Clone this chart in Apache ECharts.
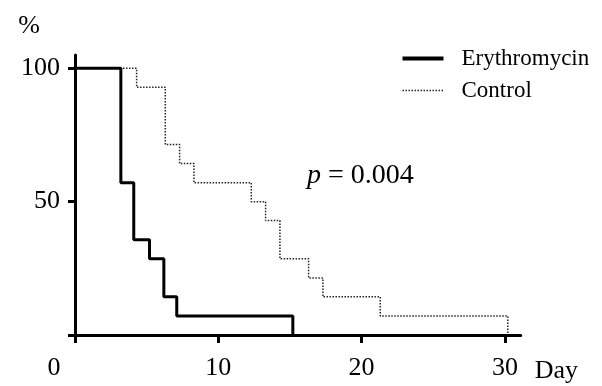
<!DOCTYPE html>
<html>
<head>
<meta charset="utf-8">
<script src="https://cdn.jsdelivr.net/npm/echarts@6/dist/echarts.min.js"></script>
<style>
html,body{margin:0;padding:0;background:#fff;}
#c{width:602px;height:386px;}
</style>
</head>
<body>
<div id="c"></div>
<script>
// Data (Kaplan-Meier steps: day, percent)
const seriesNames = ['Erythromycin', 'Control'];
const erythroDays = [0, 3.2, 4.1, 5.2, 6.2, 7.1, 15.2];
const erythroPct  = [100, 57.1, 35.7, 28.6, 14.3, 7.1, 0];
const controlDays = [0, 4.3, 6.3, 7.3, 8.3, 12.3, 13.3, 14.3, 16.3, 17.3, 21.3, 30.2];
const controlPct  = [100, 92.9, 71.4, 64.3, 57.1, 50, 42.9, 28.6, 21.4, 14.3, 7.1, 0];
const xTicks = [0, 10, 20, 30];
const yTicks = [0, 50, 100];
const yLabels = [50, 100];
const pText = '= 0.004';

const FONT = 'Liberation Serif';
const zip = (a, b) => a.map((v, i) => [v, b[i]]);

const chart = echarts.init(document.getElementById('c'), null, {renderer: 'canvas'});
chart.setOption({
  backgroundColor: '#fff',
  animation: false,
  grid: {left: 75, top: 55, width: 445.7, height: 280, containLabel: false, outerBoundsMode: 'none'},
  legend: {
    orient: 'vertical',
    left: 400.5,
    top: 47,
    padding: 0,
    itemWidth: 41,
    itemHeight: 14,
    itemGap: 9,
    data: [
      {name: seriesNames[0], lineStyle: {width: 4, color: '#000'}},
      {name: seriesNames[1], lineStyle: {width: 1.5, color: '#222', type: [1.5, 1.5]}}
    ],
    itemStyle: {opacity: 0},
    textStyle: {fontFamily: FONT, fontSize: 23, color: '#000', lineHeight: 23, padding: [0, 0, 0, 13]}
  },
  xAxis: {
    type: 'value', min: 0, max: 31.1, interval: 10,
    name: 'Day', nameLocation: 'end', nameGap: 14,
    nameTextStyle: {fontFamily: FONT, fontSize: 26, color: '#000', verticalAlign: 'top', lineHeight: 26, padding: [23, 0, 0, 0]},
    splitLine: {show: false},
    axisLine: {show: true, onZero: false, lineStyle: {color: '#000', width: 3}},
    axisTick: {show: true, customValues: xTicks, length: 8, lineStyle: {color: '#000', width: 3}},
    axisLabel: {
      customValues: xTicks, margin: 20,
      fontFamily: FONT, fontSize: 26, color: '#000',
      formatter: v => v === 0 ? '{z|0}' : String(v),
      rich: {z: {fontFamily: FONT, fontSize: 26, color: '#000', padding: [0, 42, 0, 0]}}
    }
  },
  yAxis: {
    type: 'value', min: 0, max: 105, interval: 50,
    name: '%', nameLocation: 'end', nameGap: 16,
    nameTextStyle: {fontFamily: FONT, fontSize: 26, color: '#000', align: 'right', padding: [0, 35, 0, 0]},
    splitLine: {show: false},
    axisLine: {show: true, onZero: false, lineStyle: {color: '#000', width: 3}},
    axisTick: {show: true, customValues: yTicks, length: 7, lineStyle: {color: '#000', width: 3}},
    axisLabel: {customValues: yLabels, margin: 15, fontFamily: FONT, fontSize: 26, color: '#000'}
  },
  series: [
    {
      name: seriesNames[0], type: 'line', step: 'end', symbol: 'none',
      data: zip(erythroDays, erythroPct),
      lineStyle: {color: '#000', width: 3},
      itemStyle: {color: '#000'},
      z: 3
    },
    {
      name: seriesNames[1], type: 'line', step: 'end', symbol: 'none',
      data: zip(controlDays, controlPct),
      lineStyle: {color: '#222', width: 1.5, type: [1.5, 1.5]},
      itemStyle: {color: '#222'},
      z: 2
    }
  ],
  graphic: [{
    type: 'text', left: 307, top: 162,
    style: {
      text: '{i|p} ' + pText,
      rich: {i: {fontFamily: FONT, fontStyle: 'italic', fontSize: 28, fill: '#000'}},
      font: '28px "Liberation Serif"', fill: '#000'
    }
  }]
});
</script>
</body>
</html>
